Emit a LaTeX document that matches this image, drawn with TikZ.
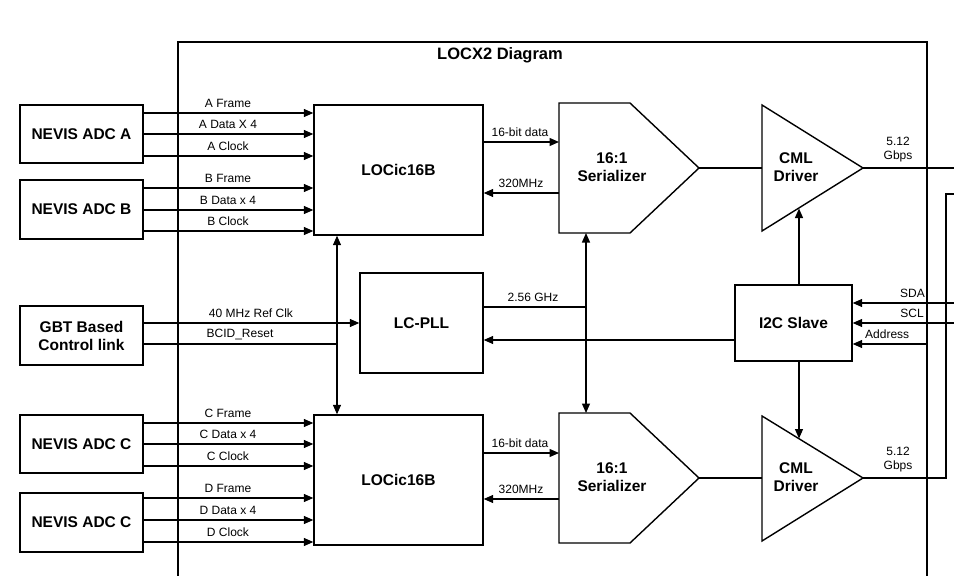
\documentclass[tikz,border=0pt]{standalone}
\usepackage{fontspec}
\setmainfont{Liberation Sans}
\usetikzlibrary{arrows.meta}
\begin{document}
\begin{tikzpicture}[x=1pt,y=-1pt,
  box/.style={draw,line width=1.4pt,inner sep=0pt,align=center,font=\fontsize{15.5}{18}\selectfont\bfseries},
  shp/.style={draw,line width=1.4pt,line join=miter},
  btxt/.style={inner sep=0pt,align=center,font=\fontsize{15.5}{18}\selectfont\bfseries},
  lbl/.style={inner sep=0pt,anchor=base,font=\fontsize{12}{14}\selectfont},
  lbl2/.style={inner sep=0pt,align=center,font=\fontsize{12}{14}\selectfont},
  conn/.style={line width=1.3pt},
  arr/.style={conn,-{Triangle[length=9.5pt,width=8pt]}},
  darr/.style={conn,{Triangle[length=9.5pt,width=8pt]}-{Triangle[length=9.5pt,width=8pt]}}]
\useasboundingbox (0,0) rectangle (954,576);
\clip (0,0) rectangle (954,576);

% outer frame
\draw[line width=1.6pt] (178,590) -- (178,42) -- (927,42) -- (927,590);
\node[btxt,font=\fontsize{16.5}{18}\selectfont\bfseries] (title) at (500,55) {LOCX2 Diagram};

% left boxes
\node[box,minimum width=123pt,minimum height=58pt] (adcA) at (81.5,134) {NEVIS ADC A};
\node[box,minimum width=123pt,minimum height=59pt] (adcB) at (81.5,209.5) {NEVIS ADC B};
\node[box,minimum width=123pt,minimum height=59pt] (gbt) at (81.5,335.5) {GBT Based\\Control link};
\node[box,minimum width=123pt,minimum height=58pt] (adcC) at (81.5,444) {NEVIS ADC C};
\node[box,minimum width=123pt,minimum height=59pt] (adcD) at (81.5,522.5) {NEVIS ADC C};

% LOCic16B
\node[box,minimum width=169pt,minimum height=130pt] (loc1) at (398.5,170) {LOCic16B};
\node[box,minimum width=169pt,minimum height=130pt] (loc2) at (398.5,480) {LOCic16B};

% LC-PLL and I2C
\node[box,minimum width=123pt,minimum height=100pt] (pll) at (421.5,323) {LC-PLL};
\node[box,minimum width=117pt,minimum height=76pt] (i2c) at (793.5,323) {I2C Slave};

% serializers
\coordinate (s1tl) at (559,103); \coordinate (s1tip) at (699,168); \coordinate (s1bl) at (559,233);
\draw[shp] (s1tl) -- (630,103) -- (s1tip) -- (630,233) -- (s1bl) -- cycle;
\node[btxt] (ser1) at (612,167) {16:1\\Serializer};
\coordinate (s2tl) at (559,413); \coordinate (s2tip) at (699,478); \coordinate (s2bl) at (559,543);
\draw[shp] (s2tl) -- (630,413) -- (s2tip) -- (630,543) -- (s2bl) -- cycle;
\node[btxt] (ser2) at (612,477) {16:1\\Serializer};

% CML drivers
\coordinate (c1in) at (762,168); \coordinate (c1tip) at (863,168);
\draw[shp] (762,105) -- (c1tip) -- (762,231) -- cycle;
\node[btxt] (cml1) at (796,167) {CML\\Driver};
\coordinate (c2in) at (762,478); \coordinate (c2tip) at (863,478);
\draw[shp] (762,416) -- (c2tip) -- (762,541) -- cycle;
\node[btxt] (cml2) at (796,477) {CML\\Driver};

% ADC A/B inputs
\foreach \y/\t in {113/A Frame,134/A Data X 4,156/A Clock}{
  \draw[arr] (adcA.east |- 0,\y) -- (loc1.west |- 0,\y);
  \node[lbl] at (228,\y-5.5) {\t};}
\foreach \y/\t in {188/B Frame,210/B Data x 4,231/B Clock}{
  \draw[arr] (adcB.east |- 0,\y) -- (loc1.west |- 0,\y);
  \node[lbl] at (228,\y-5.5) {\t};}
\foreach \y/\t in {423/C Frame,444/C Data x 4,466/C Clock}{
  \draw[arr] (adcC.east |- 0,\y) -- (loc2.west |- 0,\y);
  \node[lbl] at (228,\y-5.5) {\t};}
\foreach \y/\t in {498/D Frame,520/D Data x 4,542/D Clock}{
  \draw[arr] (adcD.east |- 0,\y) -- (loc2.west |- 0,\y);
  \node[lbl] at (228,\y-5.5) {\t};}

% GBT to PLL
\draw[arr] (gbt.east |- 0,323) -- (pll.west |- 0,323);
\node[lbl] at (251,317) {40 MHz Ref Clk};
\coordinate (bcid) at (337,344);
\draw[conn] (gbt.east |- bcid) -- (bcid);
\node[lbl] at (240,337.5) {BCID\_Reset};

% LOCic <-> serializer
\draw[arr] (loc1.east |- 0,142) -- (s1tl |- 0,142);
\node[lbl] at (520,136.5) {16-bit data};
\draw[arr] (s1tl |- 0,193) -- (loc1.east |- 0,193);
\node[lbl] at (521,187.5) {320MHz};
\draw[arr] (loc2.east |- 0,453) -- (s2tl |- 0,453);
\node[lbl] at (520,447.5) {16-bit data};
\draw[arr] (s2tl |- 0,499) -- (loc2.east |- 0,499);
\node[lbl] at (521,493.5) {320MHz};

% vertical double arrows
\draw[darr] (loc1.south -| bcid) -- (loc2.north -| bcid);
\coordinate (sv) at (586,307);
\draw[darr] (s1bl -| sv) -- (s2tl -| sv);
\draw[conn] (pll.east |- sv) -- (sv);
\node[lbl] at (533,301.5) {2.56 GHz};

% I2C to PLL
\draw[arr] (i2c.west |- 0,340) -- (pll.east |- 0,340);

% serializer to CML
\draw[conn] (s1tip) -- (c1in);
\draw[conn] (s2tip) -- (c2in);

% I2C to CML
\coordinate (c1b) at (799,208.5);
\coordinate (c2t) at (799,438.5);
\draw[arr] (c1b |- i2c.north) -- (c1b);
\draw[arr] (c2t |- i2c.south) -- (c2t);

% outputs
\coordinate (out1) at (956,168);
\draw[conn] (c1tip) -- (out1);
\node[lbl2] at (898,150) {5.12\\Gbps};
\coordinate (out2) at (956,194);
\draw[conn] (c2tip) -- (946,478) -- (946,194) -- (out2);
\node[lbl2] at (898,460) {5.12\\Gbps};

% I2C inputs
\coordinate (sda) at (956,303);
\coordinate (scl) at (956,323);
\coordinate (adr) at (927,344);
\draw[arr] (sda) -- (i2c.east |- sda);
\draw[arr] (scl) -- (i2c.east |- scl);
\draw[arr] (adr) -- (i2c.east |- adr);
\node[lbl,anchor=base east] at (925,297) {SDA};
\node[lbl,anchor=base east] at (924,317) {SCL};
\node[lbl,anchor=base west] at (865,338) {Address};
\end{tikzpicture}
\end{document}
